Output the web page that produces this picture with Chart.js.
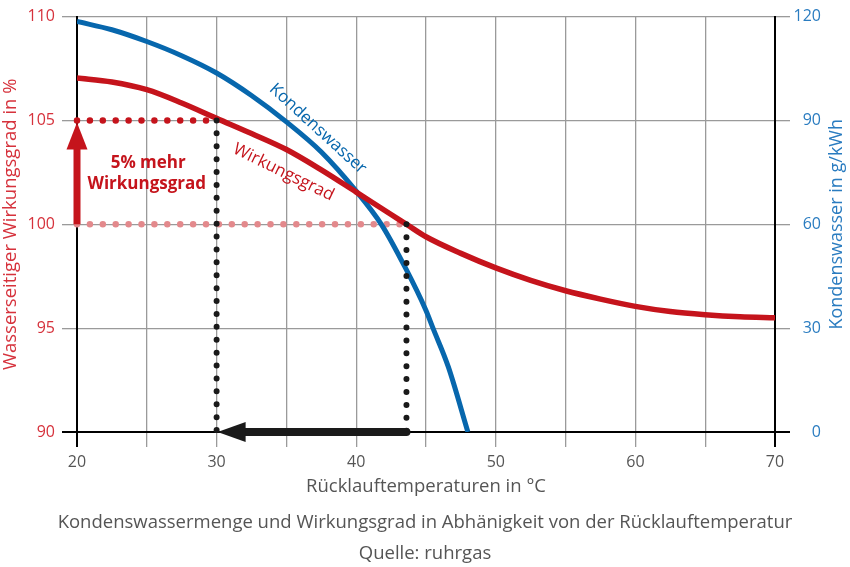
<!DOCTYPE html>
<html><head><meta charset="utf-8">
<script src="https://cdn.jsdelivr.net/npm/chart.js@4"></script>
<style>html,body{margin:0;padding:0;background:#fff}#wrap{width:850px;height:567px;position:relative}</style>
</head><body><div id="wrap"><canvas id="c"></canvas></div>
<script>
// ---- data ----
const temps = [20, 22.5, 25, 27.5, 30, 32.5, 35, 37.5, 40, 42.5, 43.6, 45, 47.5, 50, 52.5, 55, 57.5, 60, 62.5, 65, 67.5, 70];
const wirkungsgrad = [107.04, 106.85, 106.48, 105.84, 105.1, 104.37, 103.6, 102.62, 101.55, 100.47, 100.0, 99.4, 98.6, 97.9, 97.3, 96.8, 96.4, 96.05, 95.8, 95.65, 95.55, 95.5];
const kondensTemps = [20, 22.5, 25, 27.5, 30, 32.5, 35, 37.5, 40, 41.8, 43.5, 45, 45.5, 46.6, 48];
const kondenswasser = [118.6, 116.2, 112.8, 108.7, 103.7, 97.2, 89.6, 80.9, 69.6, 60, 47.6, 35.1, 30, 18.8, 0];
const xTickLabels = [20, 30, 40, 50, 60, 70];
const effTicks = [90, 95, 100, 105, 110];
const waterTicks = [0, 30, 60, 90, 120];
const refTemps = [30, 43.6];   // Rücklauftemperatur bei 105 % bzw. 100 %
const refEff = [105, 100];
const baseTemp = 20;
const effMin = 90;

const RED = '#c5141c', BLUE = '#0767ad', PINK = '#e3898c', BLACK = '#1a1a1a';
const RED_TXT = '#d6323c', BLUE_TXT = '#2a7cc0', GRAY_TXT = '#555555';
const FONT = "'Open Sans', 'DejaVu Sans', sans-serif";
Chart.defaults.font.family = FONT;

const pts = (xs, ys) => xs.map((x, i) => ({x, y: ys[i]}));

const dotted = (data, color, yAxisID, order, w) => ({
  data, yAxisID, order, borderColor: color, borderWidth: w, borderDash: [0.001, 12.9],
  borderCapStyle: 'round', pointRadius: 0, fill: false, clip: false, tension: 0
});

const overlay = {
  id: 'overlay',
  afterDatasetsDraw(chart) {
    const {ctx, scales: {x, yL}, chartArea} = chart;
    ctx.save();
    // black arrow along the x axis
    const y0 = yL.getPixelForValue(effMin);
    const xs = x.getPixelForValue(refTemps[1]);
    const xt = x.getPixelForValue(refTemps[0]) + 1;
    const headLen = 28, headHalf = 10;
    ctx.strokeStyle = BLACK; ctx.fillStyle = BLACK;
    ctx.lineWidth = 8; ctx.lineCap = 'round';
    ctx.beginPath(); ctx.moveTo(xs, y0); ctx.lineTo(xt + headLen - 2, y0); ctx.stroke();
    ctx.beginPath(); ctx.moveTo(xt, y0); ctx.lineTo(xt + headLen, y0 - headHalf);
    ctx.lineTo(xt + headLen, y0 + headHalf); ctx.closePath(); ctx.fill();
    // red arrow on the left axis
    const xa = x.getPixelForValue(baseTemp);
    const yb = yL.getPixelForValue(refEff[1]);
    const yt = yL.getPixelForValue(refEff[0]) + 2;
    ctx.strokeStyle = RED; ctx.fillStyle = RED; ctx.lineWidth = 7; ctx.lineCap = 'butt';
    ctx.beginPath(); ctx.moveTo(xa, yb); ctx.lineTo(xa, yt + 24); ctx.stroke();
    ctx.beginPath(); ctx.moveTo(xa, yt); ctx.lineTo(xa - 10.5, yt + 27); ctx.lineTo(xa + 10.5, yt + 27);
    ctx.closePath(); ctx.fill();
    // text labels
    const label = (txt, vx, vy, angle, color, font) => {
      ctx.save();
      ctx.translate(x.getPixelForValue(vx), yL.getPixelForValue(vy));
      ctx.rotate(angle * Math.PI / 180);
      ctx.fillStyle = color; ctx.font = font;
      ctx.textAlign = 'center'; ctx.textBaseline = 'middle';
      ctx.fillText(txt, 0, 0);
      ctx.restore();
    };
    label('Kondenswasser', 37.25, 104.6, 42.5, BLUE, `17px ${FONT}`);
    label('Wirkungsgrad', 34.8, 102.5, 26, RED, `17px ${FONT}`);
    label('5% mehr', 25.1, 102.95, 0, RED, `bold 17px ${FONT}`);
    label('Wirkungsgrad', 25.0, 101.93, 0, RED, `bold 17px ${FONT}`);
    // right axis title (reads bottom to top)
    ctx.save();
    ctx.translate(837, (chartArea.top + chartArea.bottom) / 2);
    ctx.rotate(-Math.PI / 2);
    ctx.fillStyle = BLUE_TXT; ctx.font = `18px ${FONT}`;
    ctx.textAlign = 'center'; ctx.textBaseline = 'middle';
    ctx.fillText('Kondenswasser in g/kWh', 0, 0);
    ctx.restore();
    ctx.restore();
  }
};

const gridCol = (edge) => (c) => (c.tick && edge.includes(c.tick.value)) ? '#000' : '#9a9a9a';
const gridW = (edge) => (c) => (c.tick && edge.includes(c.tick.value)) ? 2 : 1.3;

new Chart(document.getElementById('c'), {
  type: 'line',
  data: {
    datasets: [
      {label: 'Wirkungsgrad', data: pts(temps, wirkungsgrad), yAxisID: 'yL', order: 1,
       borderColor: RED, borderWidth: 5.5, pointRadius: 0, cubicInterpolationMode: 'monotone'},
      {label: 'Kondenswasser', data: pts(kondensTemps, kondenswasser), yAxisID: 'yR', order: 2,
       borderColor: BLUE, borderWidth: 5, pointRadius: 0, cubicInterpolationMode: 'monotone'},
      dotted(pts([baseTemp, refTemps[0]], [refEff[0], refEff[0]]), RED, 'yL', 3, 6.5),
      dotted(pts([baseTemp, refTemps[1]], [refEff[1], refEff[1]]), PINK, 'yL', 4, 6.5),
      dotted(pts([refTemps[0], refTemps[0]], [refEff[0], effMin]), BLACK, 'yL', 0, 6),
      dotted(pts([refTemps[1], refTemps[1]], [refEff[1], effMin]), BLACK, 'yL', 0, 6)
    ]
  },
  options: {
    responsive: true, maintainAspectRatio: false, animation: false,
    layout: {padding: {top: 15, left: 0, right: 0, bottom: 0}},
    plugins: {
      legend: {display: false}, tooltip: {enabled: false},
      title: {display: true, position: 'bottom', color: GRAY_TXT, padding: {top: 0, bottom: -2},
        font: {size: 18.5, weight: 'normal', lineHeight: '31px'},
        text: ['Kondenswassermenge und Wirkungsgrad in Abhänigkeit von der Rücklauftemperatur', 'Quelle: ruhrgas']}
    },
    scales: {
      x: {type: 'linear', min: 20, max: 70,
        afterFit(s) { s.height = 75; },
        ticks: {stepSize: 5, autoSkip: false, maxRotation: 0, padding: 6, color: GRAY_TXT, font: {size: 16},
          callback: v => xTickLabels.includes(v) ? String(v) : ''},
        grid: {color: gridCol([20, 70]), lineWidth: gridW([20, 70]), tickLength: 15},
        border: {display: true, color: '#000', width: 2},
        title: {display: true, text: 'Rücklauftemperaturen in °C', color: GRAY_TXT, font: {size: 18.5},
          padding: {top: 0, bottom: 9}}
      },
      yL: {type: 'linear', position: 'left', min: 90, max: 110,
        afterFit(s) { s.width = 77; },
        ticks: {stepSize: 5, padding: 7, color: RED_TXT, font: {size: 16},
          callback: v => effTicks.includes(v) ? String(v) : ''},
        grid: {color: gridCol([90]), lineWidth: gridW([90]), tickLength: 15},
        border: {display: true, color: '#000', width: 2},
        title: {display: true, text: 'Wasserseitiger Wirkungsgrad in %', color: RED_TXT, font: {size: 18.5},
          padding: {top: 0, bottom: 0}}
      },
      yR: {type: 'linear', position: 'right', min: 0, max: 120, weight: 0,
        afterFit(s) { s.width = 46; },
        ticks: {stepSize: 30, padding: 4, crossAlign: 'far', color: BLUE_TXT, font: {size: 16},
          callback: v => waterTicks.includes(v) ? String(v) : ''},
        grid: {drawOnChartArea: false, color: gridCol([0]), lineWidth: gridW([0]), tickLength: 15},
        border: {display: true, color: '#000', width: 2},
        title: {display: false}
      },
      yPad: {type: 'linear', position: 'right', min: 0, max: 1, weight: 1,
        afterFit(s) { s.width = 29; },
        ticks: {display: false}, grid: {display: false}, border: {display: false}, title: {display: false}
      }
    }
  },
  plugins: [overlay]
});
</script>
</body></html>
